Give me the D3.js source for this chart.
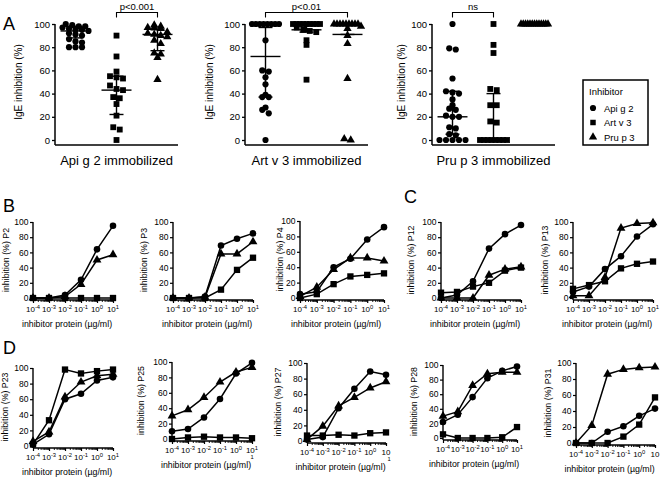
<!DOCTYPE html>
<html><head><meta charset="utf-8">
<script src="https://cdn.jsdelivr.net/npm/d3@7"></script>
<style>
body{margin:0;background:#fff}
svg{display:block}
text{font-family:Arial,"Liberation Sans",Helvetica,sans-serif;fill:#000}
</style>
</head><body>
<svg id="c" width="662" height="477"></svg>
<script>
// ================= DATA =================
// Panel A : IgE inhibition (%) by inhibitor, for each immobilized allergen
const inhibitors = ["Api g 2", "Art v 3", "Pru p 3"];
const aTitles = ["Api g 2 immobilized", "Art v 3 immobilized", "Pru p 3 immobilized"];
const aYTicks = [0, 20, 40, 60, 80, 100];

const apiOnApi = [100, 99, 98, 98, 97, 96, 95, 95, 94, 92, 91, 90, 87, 85, 84, 80, 80, 80];
const artOnApi = [90, 72, 59, 55, 54, 53, 47, 44, 43, 37, 36, 31, 21, 11, 9, 0];
const pruOnApi = [99, 98, 97, 97, 96, 93, 92, 91, 90, 89, 86, 83, 75, 74, 71, 52];

const apiOnArt = [100, 100, 100, 100, 100, 100, 100, 100, 86, 60, 59, 54, 48, 39, 37, 37, 28, 26, 23, 0];
const artOnArt = [100, 100, 100, 100, 100, 100, 100, 100, 100, 97, 95, 94, 93, 86, 82, 52];
const pruOnArt = [100, 100, 100, 100, 100, 100, 100, 100, 100, 98, 96, 90, 83, 53, 1, 0];

const apiOnPru = [100, 79, 78, 53, 42, 41, 40, 35, 30, 27, 26, 21, 20, 20, 11, 10, 5, 4, 0, 0, 0, 0, 0];
const artOnPru = [100, 82, 75, 44, 43, 30, 30, 16, 15, 0, 0, 0, 0, 0, 0, 0, 0];
const pruOnPru = [100, 100, 100, 100, 100, 100, 100, 100, 100, 100, 100, 100, 100];

// central line / lower / upper bar for each group (Api, Art, Pru)
const aMid = [[94, 43, 91], [72, 95, 91], [20, 0, 100]];
const aLo  = [[88, 22, 77], [37, 93, 91], [5, 0, 100]];
const aHi  = [[98, 55, 95], [97, 100, 100], [42, 40, 100]];

const aSignif = ["p<0.001", "p<0.01", "ns"];
const aSignifPairs = [["Art v 3", "Pru p 3"], ["Api g 2", "Pru p 3"], ["Api g 2", "Art v 3"]];

// Panels B-D : inhibition curves per patient
const concs = [1e-4, 1e-3, 1e-2, 1e-1, 1, 10];
const lineYTicks = [0, 20, 40, 60, 80, 100];
const patients = ["P2", "P3", "P4", "P12", "P13", "P23", "P25", "P27", "P28", "P31"];

const p2Api = [0, 0, 4, 24, 64, 95],    p2Art = [0, 0, 0, 0, 0, 0],      p2Pru = [0, 0, 2, 18, 50, 57];
const p3Api = [0, 0, 2, 69, 78, 85],    p3Art = [0, 0, 0, 11, 37, 53],   p3Pru = [0, 0, 1, 58, 58, 74];
const p4Api = [5, 8, 40, 51, 76, 92],   p4Art = [0, 5, 18, 28, 30, 32],  p4Pru = [2, 14, 37, 52, 52, 48];
const p12Api = [0, 4, 22, 65, 84, 96],  p12Art = [7, 8, 15, 20, 36, 40], p12Pru = [0, 0, 0, 30, 38, 41];
const p13Api = [8, 15, 38, 55, 81, 97], p13Art = [12, 17, 22, 39, 45, 48], p13Pru = [3, 3, 27, 92, 98, 99];
const p23Api = [2, 15, 60, 67, 84, 88], p23Art = [2, 33, 98, 93, 96, 98], p23Pru = [6, 18, 63, 82, 90, 92];
const p25Api = [10, 13, 28, 52, 85, 99], p25Art = [0, 2, 3, 2, 2, 1],    p25Pru = [30, 38, 54, 74, 87, 93];
const p27Api = [2, 5, 42, 67, 89, 85],  p27Art = [7, 7, 8, 7, 10, 11],   p27Pru = [2, 19, 45, 56, 68, 76];
const p28Api = [22, 32, 56, 82, 92, 98], p28Art = [5, 0, 0, 0, 1, 15],   p28Pru = [30, 36, 72, 88, 90, 90];
const p31Api = [0, 0, 14, 21, 34, 43],  p31Art = [0, 0, 0, 8, 23, 57],   p31Pru = [0, 22, 86, 92, 94, 95];

const seriesByPatient = {
  P2: [p2Api, p2Art, p2Pru], P3: [p3Api, p3Art, p3Pru], P4: [p4Api, p4Art, p4Pru],
  P12: [p12Api, p12Art, p12Pru], P13: [p13Api, p13Art, p13Pru], P23: [p23Api, p23Art, p23Pru],
  P25: [p25Api, p25Art, p25Pru], P27: [p27Api, p27Art, p27Pru], P28: [p28Api, p28Art, p28Pru],
  P31: [p31Api, p31Art, p31Pru]
};

// ================= LAYOUT (positions only) =================
const aLayout = [{x0: 55, w: 123, yl: 22}, {x0: 245, w: 123, yl: 213}, {x0: 432, w: 123, yl: 405}];
const lineLayout = {
  P2:  {x0: 33,  x1: 113, yT: 222, yB: 298, yl: 9,   last: "sup"},
  P3:  {x0: 173, x1: 253, yT: 222, yB: 298, yl: 147, last: "sup"},
  P4:  {x0: 300, x1: 384, yT: 221, yB: 298, yl: 283, last: "sup"},
  P12: {x0: 441, x1: 521, yT: 222, yB: 298, yl: 414, last: "sup"},
  P13: {x0: 573, x1: 653, yT: 222, yB: 298, yl: 548, last: "sup"},
  P23: {x0: 33,  x1: 113, yT: 368, yB: 446, yl: 8,   last: "sup"},
  P25: {x0: 172, x1: 252, yT: 362, yB: 439, yl: 144, last: "supwrap"},
  P27: {x0: 307, x1: 386, yT: 363, yB: 441, yl: 281, last: "wrap"},
  P28: {x0: 443, x1: 517, yT: 365, yB: 438, yl: 417, last: "sup"},
  P31: {x0: 576, x1: 655, yT: 363, yB: 443, yl: 551, last: "plain"}
};
const panelLetters = [{t: "A", x: 3, y: 30}, {t: "B", x: 3, y: 212}, {t: "C", x: 404, y: 203}, {t: "D", x: 3, y: 354}];

// ================= DRAW =================
const svg = d3.select("#c");
const shapes = [d3.symbolCircle, d3.symbolSquare, d3.symbolTriangle];

panelLetters.forEach(p => svg.append("text").attr("x", p.x).attr("y", p.y)
  .attr("font-size", 18).text(p.t));

// ---------- Panel A ----------
const yA = d3.scaleLinear().domain([0, 100]).range([140, 24]);
const aData = [[apiOnApi, artOnApi, pruOnApi], [apiOnArt, artOnArt, pruOnArt], [apiOnPru, artOnPru, pruOnPru]];

function swarm(vals) {
  const bins = d3.groups(vals, v => Math.round(v / 5));
  const out = [];
  bins.forEach(([k, arr]) => {
    const n = arr.length;
    const s = n > 1 ? Math.min(6.5, 27 / (n - 1)) : 0;
    arr.forEach((v, j) => out.push({v, dx: (j - (n - 1) / 2) * s * (j % 2 ? 1 : 1)}));
  });
  return out;
}

aTitles.forEach((title, pi) => {
  const L = aLayout[pi];
  const g = svg.append("g");
  const xs = d3.scalePoint().domain(inhibitors).range([L.x0, L.x0 + L.w]).padding(0.5);
  const axisY = yA(0) + 5;

  const ya = g.append("g").attr("transform", `translate(${L.x0},0)`)
    .call(d3.axisLeft(yA).tickValues(aYTicks).tickSize(3).tickPadding(2).tickSizeOuter(0));
  ya.select(".domain").remove();
  ya.selectAll("line").attr("stroke", "#000").attr("stroke-width", 1.3);
  ya.selectAll("text").attr("font-size", 9.5).attr("font-family", "Arial,'Liberation Sans',sans-serif");
  g.append("line").attr("x1", L.x0).attr("x2", L.x0).attr("y1", yA(100)).attr("y2", axisY)
    .attr("stroke", "#000").attr("stroke-width", 1.5);
  g.append("line").attr("x1", L.x0).attr("x2", L.x0 + L.w).attr("y1", axisY).attr("y2", axisY)
    .attr("stroke", "#000").attr("stroke-width", 1.5);

  g.append("text").attr("transform", `translate(${L.yl},${yA(50)}) rotate(-90)`)
    .attr("text-anchor", "middle").attr("font-size", 10).text("IgE inhibition (%)");
  g.append("text").attr("x", L.x0 + L.w / 2).attr("y", 165).attr("text-anchor", "middle")
    .attr("font-size", 13).text(title);

  inhibitors.forEach((inh, si) => {
    const cx = xs(inh);
    const pts = swarm(aData[pi][si]);
    g.selectAll(null).data(pts).join("path")
      .attr("d", d3.symbol().type(shapes[si]).size(si === 2 ? 30 : (si === 1 ? 34 : 30)))
      .attr("transform", d => `translate(${cx + d.dx},${yA(d.v)})`)
      .attr("fill", "#000");
    // summary bars
    const mid = aMid[pi][si], lo = aLo[pi][si], hi = aHi[pi][si];
    g.append("line").attr("x1", cx).attr("x2", cx).attr("y1", yA(lo)).attr("y2", yA(hi))
      .attr("stroke", "#000").attr("stroke-width", 1.4);
    g.append("line").attr("x1", cx - 15).attr("x2", cx + 15).attr("y1", yA(mid)).attr("y2", yA(mid))
      .attr("stroke", "#000").attr("stroke-width", 1.4);
    [lo, hi].forEach(v => g.append("line").attr("x1", cx - 7).attr("x2", cx + 7)
      .attr("y1", yA(v)).attr("y2", yA(v)).attr("stroke", "#000").attr("stroke-width", 1.4));
  });

  // significance bracket
  const [a, b] = aSignifPairs[pi];
  const xa = xs(a), xb = xs(b);
  g.append("path").attr("d", `M${xa},17.5V12.5H${xb}V17.5`).attr("fill", "none")
    .attr("stroke", "#000").attr("stroke-width", 1.1);
  g.append("text").attr("x", (xa + xb) / 2).attr("y", 10).attr("text-anchor", "middle")
    .attr("font-size", 9.5).text(aSignif[pi]);
});

// legend
const lg = svg.append("g");
lg.append("rect").attr("x", 583).attr("y", 80).attr("width", 65).attr("height", 65)
  .attr("fill", "#fff").attr("stroke", "#000").attr("stroke-width", 1.5);
lg.append("text").attr("x", 589).attr("y", 95).attr("font-size", 9.5).text("Inhibitor");
inhibitors.forEach((inh, i) => {
  const yy = 108 + i * 14.5;
  lg.append("path").attr("d", d3.symbol().type(shapes[i]).size(30)).attr("fill", "#000")
    .attr("transform", `translate(593,${yy})`);
  lg.append("text").attr("x", 604).attr("y", yy + 3.5).attr("font-size", 9.5).text(inh);
});

// ---------- Panels B-D ----------
const minorTicks = [];
[-4, -3, -2, -1, 0].forEach(e => { for (let k = 2; k <= 9; k++) minorTicks.push(k * Math.pow(10, e)); });

patients.forEach(pid => {
  const L = lineLayout[pid];
  const g = svg.append("g");
  const x = d3.scaleLog().domain([concs[0], concs[concs.length - 1]]).range([L.x0, L.x1]);
  const y = d3.scaleLinear().domain([0, 100]).range([L.yB, L.yT]);
  const axisY = L.yB + 2;

  const ya = g.append("g").attr("transform", `translate(${L.x0},0)`)
    .call(d3.axisLeft(y).tickValues(lineYTicks).tickSize(3).tickPadding(1.5).tickSizeOuter(0));
  ya.select(".domain").remove();
  ya.selectAll("line").attr("stroke", "#000").attr("stroke-width", 1.2);
  ya.selectAll("text").attr("font-size", 8.5).attr("font-family", "Arial,'Liberation Sans',sans-serif");

  // x axis (major + minor)
  const xa = g.append("g").attr("transform", `translate(0,${axisY})`)
    .call(d3.axisBottom(x).tickValues(concs).tickSize(3).tickFormat(""));
  xa.select(".domain").remove();
  xa.selectAll("line").attr("stroke", "#000").attr("stroke-width", 1.2);
  const xm = g.append("g").attr("transform", `translate(0,${axisY})`)
    .call(d3.axisBottom(x).tickValues(minorTicks).tickSize(2).tickFormat(""));
  xm.select(".domain").remove();
  xm.selectAll("line").attr("stroke", "#000").attr("stroke-width", 0.9);

  g.append("line").attr("x1", L.x0).attr("x2", L.x0).attr("y1", L.yT).attr("y2", axisY)
    .attr("stroke", "#000").attr("stroke-width", 1.4);
  g.append("line").attr("x1", L.x0).attr("x2", L.x1).attr("y1", axisY).attr("y2", axisY)
    .attr("stroke", "#000").attr("stroke-width", 1.4);

  // tick labels with superscripts
  concs.forEach((c, i) => {
    const e = Math.round(Math.log10(c));
    const isLast = i === concs.length - 1;
    const t = g.append("text").attr("x", x(c)).attr("y", L.yB + 14)
      .attr("text-anchor", "middle").attr("font-size", 8);
    t.append("tspan").text("10");
    if (!isLast || L.last === "sup" || L.last === "supwrap") {
      t.append("tspan").attr("dy", -3).attr("font-size", 5.8).text(e < 0 ? "-" + (-e) : String(e));
    }
    if (isLast && (L.last === "wrap" || L.last === "supwrap")) {
      g.append("text").attr("x", x(c) + (L.last === "wrap" ? 3 : 0)).attr("y", L.yB + 20)
        .attr("text-anchor", "middle").attr("font-size", 5.8).text("1");
    }
  });

  g.append("text").attr("x", (L.x0 + L.x1) / 2 - 6).attr("y", L.yB + 29)
    .attr("text-anchor", "middle").attr("font-size", 8.8).text("inhibitor protein (µg/ml)");
  g.append("text").attr("transform", `translate(${L.yl},${y(50)}) rotate(-90)`)
    .attr("text-anchor", "middle").attr("font-size", 8.8).text("inhibition (%) " + pid);

  const lineGen = d3.line().x(d => x(d[0])).y(d => y(d[1]));
  const series = seriesByPatient[pid];
  series.forEach((vals) => {
    g.append("path").attr("d", lineGen(concs.map((c, i) => [c, vals[i]])))
      .attr("fill", "none").attr("stroke", "#000").attr("stroke-width", 1.5);
  });
  series.forEach((vals, si) => {
    g.selectAll(null).data(concs.map((c, i) => [c, vals[i]])).join("path")
      .attr("d", d3.symbol().type(shapes[si]).size(si === 1 ? 40 : 34))
      .attr("transform", d => `translate(${x(d[0])},${y(d[1])})`)
      .attr("fill", "#000");
  });
});
</script>
</body></html>
